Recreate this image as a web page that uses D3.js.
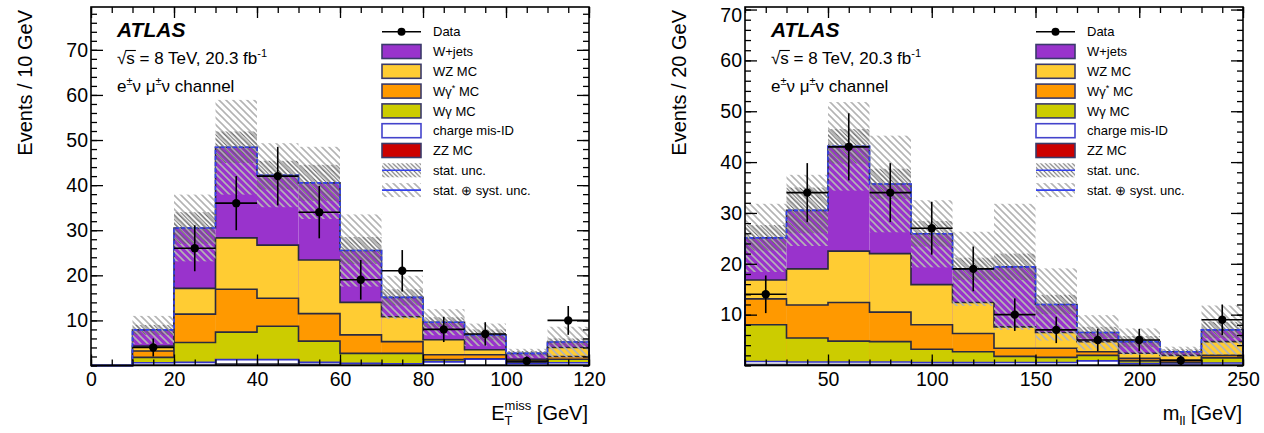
<!DOCTYPE html>
<html>
<head>
<meta charset="utf-8">
<script src="https://cdn.jsdelivr.net/npm/d3@7"></script>
<style>
  body { margin: 0; background: #fff; }
  svg { display: block; font-family: "Liberation Sans", Arial, Helvetica, sans-serif; }
</style>
</head>
<body>
<script>
// bin edges
const etEdges = d3.range(0, 121, 10);
const mllEdges = d3.range(10, 251, 20);

// stack components, bottom to top
const keys = ['ZZ', 'misID', 'Wgam', 'WgamStar', 'WZ', 'Wjets'];
const fills = ['#cc0000', '#ffffff', '#cccc00', '#ff9900', '#ffcc33', '#9933cc'];
const edges = ['#2a2a40', '#3333cc', '#2a2a40', '#2a2a40', '#2a2a40', '#2a2a40'];

// ETmiss plot: expected events per bin
const etZZ       = [0, 0.1, 0.1, 0.3, 0.3, 0.2, 0.1, 0.1, 0.1, 0.1, 0.05, 0.1];
const etMisID    = [0, 0.5, 0.6, 1.0, 1.0, 0.5, 0.4, 0.3, 0.7, 1.3, 0.35, 0.5];
const etWgam     = [0, 1.2, 4.4, 6.1, 7.4, 4.7, 2.2, 2.3, 0.5, 0.1, 0.2, 0.8];
const etWgamStar = [0, 1.4, 6.3, 9.5, 6.2, 6.1, 4.1, 2.6, 1.1, 0.9, 0.3, 0.6];
const etWZ       = [0, 1.1, 5.7, 11.4, 11.8, 11.9, 7.2, 5.5, 3.3, 1.1, 0.5, 2.0];
const etWjets    = [0, 3.6, 13.4, 20.1, 15.5, 17.1, 11.5, 4.3, 3.9, 3.3, 1.3, 1.2];
const etStat     = [0, 1.1, 3.5, 3.5, 3.2, 4.0, 3.0, 1.8, 1.1, 1.2, 0.5, 0.8];
const etSyst     = [0, 3.1, 7.4, 10.5, 7.1, 8.0, 8.0, 4.8, 2.9, 2.5, 1.0, 3.4];
const etData     = [null, 4, 26, 36, 42, 34, 19, 21, 8, 7, 1, 10];
const etDataErr  = [0, 2.0, 5.1, 6.0, 6.5, 5.8, 4.4, 4.6, 2.8, 2.6, 1.0, 3.2];

// mll plot: expected events per bin
const mllZZ       = [0.2, 0.2, 0.2, 0.2, 0.2, 0.2, 0.1, 0.1, 0.1, 0.1, 0.05, 0.1];
const mllMisID    = [0.6, 0.5, 0.5, 0.5, 0.4, 0.4, 0.5, 0.5, 0.8, 0.3, 0.25, 0.4];
const mllWgam     = [7.2, 4.7, 4.1, 4.0, 2.6, 2.1, 1.2, 1.0, 1.1, 0.5, 0.3, 1.0];
const mllWgamStar = [5.1, 6.5, 7.6, 5.8, 4.8, 3.6, 1.6, 1.8, 0.7, 0.5, 0.4, 0.5];
const mllWZ       = [3.7, 7.1, 10.1, 11.5, 7.9, 6.1, 4.2, 3.1, 2.0, 1.0, 1.0, 2.7];
const mllWjets    = [8.3, 11.5, 20.6, 13.7, 10.0, 6.6, 11.8, 5.5, 1.8, 2.3, 0.7, 2.3];
const mllStat     = [2.5, 4.5, 3.4, 3.0, 2.5, 2.2, 2.6, 1.9, 1.1, 1.1, 0.5, 1.6];
const mllSyst     = [6.7, 7.0, 8.7, 9.5, 6.6, 7.3, 12.4, 7.1, 3.4, 2.6, 1.0, 4.8];
const mllData     = [14, 34, 43, 34, 27, 19, 10, 7, 5, 5, 1, 9];
const mllDataErr  = [3.7, 5.8, 6.6, 5.8, 5.2, 4.4, 3.2, 2.6, 2.2, 2.2, 1.0, 3.0];

const W = 1264, H = 433;
const svg = d3.select('body').append('svg').attr('width', W).attr('height', H);
const defs = svg.append('defs');

// diagonal hatch "\"
function hatch(id, s, colour, w) {
  defs.append('pattern').attr('id', id)
    .attr('patternUnits', 'userSpaceOnUse').attr('width', s).attr('height', s)
    .append('path')
    .attr('d', `M0,0L${s},${s}M${s - 1},-1L${s + 1},1M-1,${s - 1}L1,${s + 1}`)
    .attr('stroke', colour).attr('stroke-width', w);
}
hatch('syst', 7, '#b4b4b4', 1.6);
hatch('stat', 4.5, '#666', 1.1);

const TOP = 7, BOT = 365.5, PW = 498;

function panel(p) {
  const g = svg.append('g');
  const x = d3.scaleLinear().domain(p.xDomain).range([p.left, p.left + PW]);
  const y = d3.scaleLinear().domain([0, p.yMax]).range([BOT, TOP]);

  const rows = p.edges.slice(0, -1).map((lo, i) => {
    const r = { lo: lo, hi: p.edges[i + 1], i: i };
    keys.forEach((k, j) => r[k] = p.comps[j][i]);
    return r;
  });
  const series = d3.stack().keys(keys)(rows);
  const totals = rows.map(r => d3.sum(keys, k => r[k]));

  const stepLine = (vals) => {
    const pts = [[x(p.edges[0]), y(0)]];
    vals.forEach((v, i) => pts.push([x(p.edges[i]), y(v)]));
    pts.push([x(p.edges[p.edges.length - 1]), y(vals[vals.length - 1])]);
    pts.push([x(p.edges[p.edges.length - 1]), y(0)]);
    return d3.line().curve(d3.curveStepAfter)(pts);
  };

  // stacked histograms, drawn top layer first like THStack
  for (let j = keys.length - 1; j >= 0; j--) {
    const s = series[j];
    g.append('g').selectAll('rect').data(s).join('rect')
      .attr('x', d => x(d.data.lo))
      .attr('width', d => x(d.data.hi) - x(d.data.lo))
      .attr('y', d => y(d[1]))
      .attr('height', d => y(0) - y(d[1]))
      .attr('fill', fills[j]);
    g.append('path').attr('d', stepLine(s.map(d => d[1])))
      .attr('fill', 'none').attr('stroke', edges[j]).attr('stroke-width', 1.6);
  }

  // uncertainty bands
  [['syst', p.syst], ['stat', p.stat]].forEach(([id, u]) => {
    g.append('g').selectAll('rect').data(rows.filter(r => u[r.i] > 0)).join('rect')
      .attr('x', r => x(r.lo))
      .attr('width', r => x(r.hi) - x(r.lo))
      .attr('y', r => y(totals[r.i] + u[r.i]))
      .attr('height', r => y(Math.max(0, totals[r.i] - u[r.i])) - y(totals[r.i] + u[r.i]))
      .attr('fill', `url(#${id})`);
  });

  // total MC line
  g.append('path').attr('d', stepLine(totals))
    .attr('fill', 'none').attr('stroke', '#3340ee').attr('stroke-width', 1.6)
    .attr('stroke-dasharray', '4,2');

  // data
  const pts = rows.filter(r => p.data[r.i] != null);
  const dg = g.append('g');
  dg.selectAll('line.h').data(pts).join('line').attr('class', 'h')
    .attr('x1', r => x(r.lo)).attr('x2', r => x(r.hi))
    .attr('y1', r => y(p.data[r.i])).attr('y2', r => y(p.data[r.i]))
    .attr('stroke', '#000').attr('stroke-width', 1.6);
  dg.selectAll('line.v').data(pts).join('line').attr('class', 'v')
    .attr('x1', r => x((r.lo + r.hi) / 2)).attr('x2', r => x((r.lo + r.hi) / 2))
    .attr('y1', r => y(p.data[r.i] + p.dataErr[r.i]))
    .attr('y2', r => y(Math.max(0, p.data[r.i] - p.dataErr[r.i])))
    .attr('stroke', '#000').attr('stroke-width', 1.6);
  dg.selectAll('circle').data(pts).join('circle')
    .attr('cx', r => x((r.lo + r.hi) / 2)).attr('cy', r => y(p.data[r.i]))
    .attr('r', 4.2).attr('fill', '#000');

  // frame + ticks on all four sides (inward)
  const tickGroup = (axis, tr) => {
    const a = g.append('g').attr('transform', tr).call(axis)
      .attr('font-size', null).attr('font-family', null);
    a.select('.domain').remove();
    a.selectAll('line').attr('stroke', '#000').attr('stroke-width', 1.3);
    a.selectAll('text').attr('font-size', 19.5).attr('fill', '#000');
    return a;
  };
  const fmt = d3.format('d');
  tickGroup(d3.axisBottom(x).tickValues(p.xMinor).tickSize(-6).tickFormat(''), `translate(0,${BOT})`);
  tickGroup(d3.axisBottom(x).tickValues(p.xMajor).tickSize(-11).tickPadding(7).tickFormat(fmt), `translate(0,${BOT})`);
  tickGroup(d3.axisTop(x).tickValues(p.xMinor).tickSize(-6).tickFormat(''), `translate(0,${TOP})`);
  tickGroup(d3.axisTop(x).tickValues(p.xMajor).tickSize(-11).tickFormat(''), `translate(0,${TOP})`);
  tickGroup(d3.axisLeft(y).tickValues(p.yMinor).tickSize(-6).tickFormat(''), `translate(${p.left},0)`);
  const yl = tickGroup(d3.axisLeft(y).tickValues(p.yMajor).tickSize(-12).tickPadding(3).tickFormat(fmt), `translate(${p.left},0)`);
  // keep a label sitting on the top edge inside the picture
  yl.selectAll('text').filter(d => y(d) < 12).attr('dy', '0.6em');
  tickGroup(d3.axisRight(y).tickValues(p.yMinor).tickSize(-6).tickFormat(''), `translate(${p.left + PW},0)`);
  tickGroup(d3.axisRight(y).tickValues(p.yMajor).tickSize(-12).tickFormat(''), `translate(${p.left + PW},0)`);
  g.append('rect').attr('x', p.left).attr('y', TOP).attr('width', PW).attr('height', BOT - TOP)
    .attr('fill', 'none').attr('stroke', '#000').attr('stroke-width', 1.6);

  // y title
  g.append('text').attr('transform', `translate(${p.left - 59},10) rotate(-90)`)
    .attr('text-anchor', 'end').attr('font-size', 20).text(p.yTitle);

  // ATLAS label
  const ax = p.left + 26;
  g.append('text').attr('x', ax).attr('y', 37).attr('font-size', 21)
    .attr('font-weight', 'bold').attr('font-style', 'italic').text('ATLAS');
  const t2 = g.append('text').attr('x', ax).attr('y', 64).attr('font-size', 17);
  t2.append('tspan').text('√s');
  t2.append('tspan').text('\u00a0= 8 TeV, 20.3 fb');
  t2.append('tspan').attr('dy', -7).attr('font-size', 11).text('-1');
  const sx0 = t2.node().getEndPositionOfChar(0).x, sx1 = t2.node().getEndPositionOfChar(1).x;
  g.append('line').attr('x1', sx0 - 1).attr('x2', sx1 + 1).attr('y1', 50.5).attr('y2', 50.5)
    .attr('stroke', '#000').attr('stroke-width', 1.1);
  const t3 = g.append('text').attr('x', ax).attr('y', 92).attr('font-size', 17);
  t3.append('tspan').text('e');
  t3.append('tspan').attr('dy', -7).attr('font-size', 11).text('±');
  t3.append('tspan').attr('dy', 7).text('ν μ');
  t3.append('tspan').attr('dy', -7).attr('font-size', 11).text('±');
  t3.append('tspan').attr('dy', 7).text('ν channel');

  // legend
  const lx = p.left + 291, tx = p.left + 342, ly0 = 31.7, dy = 19.8;
  const lg = g.append('g').attr('font-size', 13);
  const ent = ['Data', 'W+jets', 'WZ MC', 'Wγ* MC', 'Wγ MC', 'charge mis-ID', 'ZZ MC', 'stat. unc.', 'stat. ⊕ syst. unc.'];
  ent.forEach((name, i) => {
    const cy = ly0 + i * dy;
    const t = lg.append('text').attr('x', tx).attr('y', cy + 4.6);
    if (name === 'Wγ* MC') {
      t.append('tspan').text('Wγ');
      t.append('tspan').attr('dy', -5).attr('font-size', 9).text('*');
      t.append('tspan').attr('dy', 5).text('\u00a0MC');
    } else t.text(name);
  });
  lg.append('line').attr('x1', lx).attr('x2', lx + 39).attr('y1', ly0).attr('y2', ly0)
    .attr('stroke', '#000').attr('stroke-width', 1.6);
  lg.append('circle').attr('cx', lx + 19.5).attr('cy', ly0).attr('r', 4).attr('fill', '#000');
  const boxOrder = [5, 4, 3, 2, 1, 0];
  boxOrder.forEach((j, i) => {
    lg.append('rect').attr('x', lx).attr('y', ly0 + (i + 1) * dy - 7).attr('width', 39).attr('height', 14)
      .attr('fill', fills[j]).attr('stroke', j === 1 ? '#4444cc' : '#3a3a6a').attr('stroke-width', 1.6);
  });
  ['stat', 'syst'].forEach((id, i) => {
    const cy = ly0 + (7 + i) * dy;
    lg.append('rect').attr('x', lx).attr('y', cy - 7).attr('width', 39).attr('height', 14)
      .attr('fill', `url(#${id})`);
    lg.append('line').attr('x1', lx).attr('x2', lx + 39).attr('y1', cy).attr('y2', cy)
      .attr('stroke', '#3340ee').attr('stroke-width', 1.6);
  });

  p.xTitle(g, p.left + PW - 1);
}

function etTitle(g, right) {
  const base = 420;
  const t = g.append('text').attr('x', right).attr('y', base).attr('font-size', 20)
    .attr('text-anchor', 'end').text('\u00a0[GeV]');
  const w = t.node().getComputedTextLength();
  const sup = g.append('text').attr('x', right - w).attr('y', base - 10).attr('font-size', 13)
    .attr('text-anchor', 'end').text('miss');
  const ws = sup.node().getComputedTextLength();
  g.append('text').attr('x', right - w - ws).attr('y', base + 5).attr('font-size', 13).text('T');
  g.append('text').attr('x', right - w - ws).attr('y', base).attr('font-size', 20)
    .attr('text-anchor', 'end').text('E');
}

function mllTitle(g, right) {
  const base = 420;
  const t = g.append('text').attr('x', right).attr('y', base).attr('font-size', 20)
    .attr('text-anchor', 'end').text('\u00a0[GeV]');
  const w = t.node().getComputedTextLength();
  const sub = g.append('text').attr('x', right - w).attr('y', base + 5).attr('font-size', 13)
    .attr('text-anchor', 'end').text('ll');
  const ws = sub.node().getComputedTextLength();
  g.append('text').attr('x', right - w - ws).attr('y', base).attr('font-size', 20)
    .attr('text-anchor', 'end').text('m');
}

panel({
  left: 91, edges: etEdges, xDomain: [0, 120], yMax: 79.5,
  comps: [etZZ, etMisID, etWgam, etWgamStar, etWZ, etWjets],
  stat: etStat, syst: etSyst, data: etData, dataErr: etDataErr,
  xMajor: d3.range(0, 121, 20), xMinor: d3.range(0, 121, 5),
  yMajor: d3.range(10, 71, 10), yMinor: d3.range(0, 79.5, 2),
  yTitle: 'Events / 10 GeV', xTitle: etTitle
});

panel({
  left: 745, edges: mllEdges, xDomain: [10, 250], yMax: 70.5,
  comps: [mllZZ, mllMisID, mllWgam, mllWgamStar, mllWZ, mllWjets],
  stat: mllStat, syst: mllSyst, data: mllData, dataErr: mllDataErr,
  xMajor: d3.range(50, 251, 50), xMinor: d3.range(10, 251, 10),
  yMajor: d3.range(10, 71, 10), yMinor: d3.range(0, 71, 2),
  yTitle: 'Events / 20 GeV', xTitle: mllTitle
});
</script>
</body>
</html>
